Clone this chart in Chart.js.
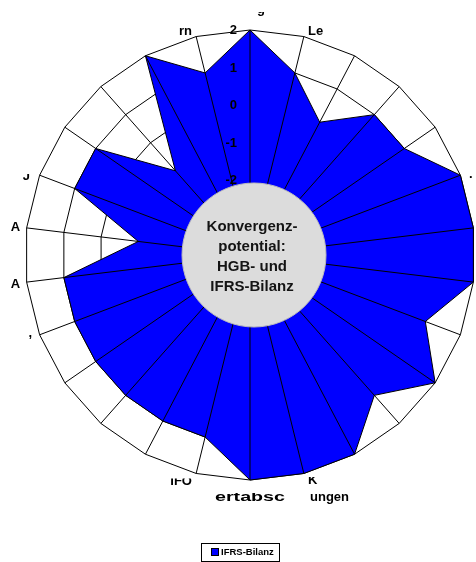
<!DOCTYPE html>
<html>
<head>
<meta charset="utf-8">
<script src="https://cdn.jsdelivr.net/npm/chart.js@4/dist/chart.umd.min.js"></script>
<style>
  html, body { margin: 0; padding: 0; background: #fff; overflow: hidden; }
  canvas { display: block; }
</style>
</head>
<body>
<canvas id="radar" width="476" height="562"></canvas>
<script>
// Category captions (only the legible fragments are kept; the rest stay blank)
const categories = ['g', 'Le', '', '', '', '.', '', '', '', '', '', '', 'K', 'ertabsc ungen',
                    'IFO', '', '', '', ',', 'A', 'A', 'J', '', '', '', 'rn'];
// Score per category, scale -2 .. 2
const seriesName = 'IFRS-Bilanz';
const ifrsValues = [2, 1, 0, 1, 1, 2, 2, 2, 1, 2, 1, 2, 2, 2, 1, 1, 1, 1, 1, 1, -1, 1, 1, -1, 2, 1];
// Radial tick labels
const tickLabels = ['2', '1', '0', '-1', '-2'];
// Text inside the centre disc
const centerTitle = ['Konvergenz-', 'potential:', 'HGB- und', 'IFRS-Bilanz'];

const FONT = '"Liberation Sans", Arial, sans-serif';
const BLUE = '#0000FF';

// Where each caption fragment sits relative to its outer vertex
const captionPlacement = {
  0:  { dx: 11,   dy: -17.5, align: 'center', cut: -0.5 },
  1:  { dx: 4.2,  dy: -1.5,  align: 'left' },
  5:  { dx: 8.6,  dy: 2.8,   align: 'left' },
  12: { dx: 4.2,  dy: 10.5,  align: 'left', cut: -7 },
  13: { parts: [{ dx: -35, w: 70 }, { dx: 60 }], dy: 21, align: 'left', cut: -8 },
  14: { dx: -4.2, dy: 11.5,  align: 'right', cut: -6.5 },
  18: { dx: -7.6, dy: 2.2,   align: 'right' },
  19: { dx: -6.6, dy: 5.9,   align: 'right' },
  20: { dx: -6.6, dy: 3.6,   align: 'right' },
  21: { dx: -9.6, dy: 4.8,   align: 'right', cut: -6 },
  25: { dx: -4.2, dy: -2,    align: 'right' }
};

function drawText(ctx, text, x, y, align, cut, width) {
  ctx.save();
  if (cut !== undefined) {
    ctx.beginPath();
    ctx.rect(0, y + cut, ctx.canvas.width, 40);
    ctx.clip();
  }
  ctx.textAlign = align;
  ctx.textBaseline = 'alphabetic';
  if (width) {
    const m = ctx.measureText(text).width;
    ctx.translate(x, y);
    ctx.scale(width / m, 1);
    ctx.fillText(text, 0, 0);
  } else {
    ctx.fillText(text, x, y);
  }
  ctx.restore();
}

const overlay = {
  id: 'overlay',
  afterDatasetsDraw(chart) {
    const ctx = chart.ctx;
    const s = chart.scales.r;
    const cx = s.xCenter, cy = s.yCenter;
    const n = chart.data.labels.length;

    // spokes on top of the filled area
    ctx.save();
    ctx.strokeStyle = '#000';
    ctx.lineWidth = 1;
    for (let i = 0; i < n; i++) {
      const p = s.getPointPosition(i, s.drawingArea);
      ctx.beginPath();
      ctx.moveTo(cx, cy);
      ctx.lineTo(p.x, p.y);
      ctx.stroke();
    }
    ctx.restore();

    // radial tick labels, left of the vertical spoke
    ctx.save();
    ctx.fillStyle = '#000';
    ctx.font = 'bold 13px ' + FONT;
    ctx.textAlign = 'right';
    ctx.textBaseline = 'middle';
    tickLabels.forEach(t => {
      const d = s.getDistanceFromCenterForValue(Number(t));
      ctx.fillText(t, cx - 13, cy - d + 0.5);
    });
    ctx.restore();

    // centre disc with title
    ctx.save();
    ctx.beginPath();
    ctx.arc(cx + 4, cy, 72, 0, Math.PI * 2);
    ctx.fillStyle = '#DCDCDC';
    ctx.fill();
    ctx.strokeStyle = '#BDBDBD';
    ctx.lineWidth = 1;
    ctx.stroke();
    ctx.fillStyle = '#141414';
    ctx.font = 'bold 15px ' + FONT;
    ctx.textAlign = 'center';
    ctx.textBaseline = 'middle';
    centerTitle.forEach((line, k) => {
      ctx.fillText(line, cx + 2, cy - 28 + k * 20);
    });
    ctx.restore();

    // category captions
    ctx.save();
    ctx.fillStyle = '#000';
    ctx.font = 'bold 13px ' + FONT;
    chart.data.labels.forEach((label, i) => {
      const pl = captionPlacement[i];
      if (!label || !pl) return;
      const p = s.getPointPosition(i, s.drawingArea);
      if (pl.parts) {
        label.split(' ').forEach((part, k) => {
          const pp = pl.parts[k];
          drawText(ctx, part, p.x + pp.dx, p.y + pl.dy, pl.align, pl.cut, pp.w);
        });
      } else {
        drawText(ctx, label, p.x + pl.dx, p.y + pl.dy, pl.align, pl.cut);
      }
    });
    ctx.restore();
  },
  afterDraw(chart) {
    // legend box
    const ctx = chart.ctx;
    const ds = chart.data.datasets[0];
    ctx.save();
    ctx.strokeStyle = '#000';
    ctx.lineWidth = 1;
    ctx.strokeRect(201.5, 543.5, 78, 18);
    ctx.fillStyle = ds.backgroundColor;
    ctx.fillRect(212, 549, 6, 6);
    ctx.strokeRect(211.5, 548.5, 7, 7);
    ctx.fillStyle = '#000';
    ctx.font = 'bold 9.5px ' + FONT;
    ctx.textAlign = 'left';
    ctx.textBaseline = 'middle';
    ctx.fillText(ds.label, 221, 552.5);
    ctx.restore();
  }
};

new Chart(document.getElementById('radar'), {
  type: 'radar',
  data: {
    labels: categories,
    datasets: [{
      label: seriesName,
      data: ifrsValues,
      backgroundColor: BLUE,
      borderColor: '#000',
      borderWidth: 1,
      pointRadius: 0,
      pointHoverRadius: 0,
      tension: 0,
      fill: 'start'
    }]
  },
  options: {
    responsive: false,
    animation: false,
    layout: { padding: { left: 25, right: 1, top: 30, bottom: 82 } },
    plugins: {
      legend: { display: false },
      tooltip: { enabled: false }
    },
    scales: {
      r: {
        min: -4,
        max: 2,
        ticks: { display: false, stepSize: 1 },
        grid: { color: '#000', lineWidth: 1 },
        angleLines: { display: false },
        pointLabels: { display: false }
      }
    }
  },
  plugins: [overlay]
});
</script>
</body>
</html>
